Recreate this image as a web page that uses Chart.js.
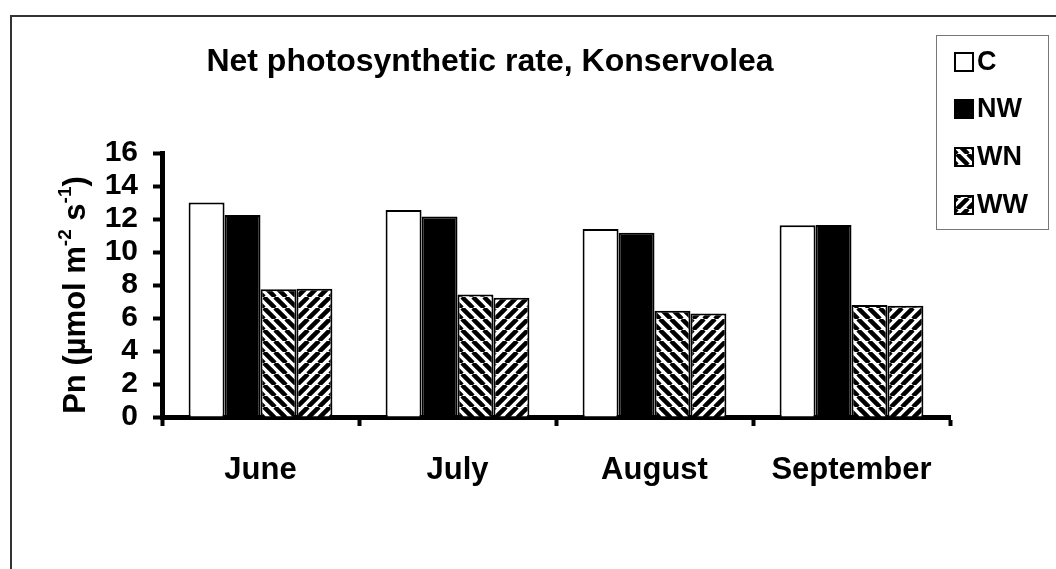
<!DOCTYPE html>
<html>
<head>
<meta charset="utf-8">
<script src="https://cdn.jsdelivr.net/npm/chart.js@4.4.1/dist/chart.umd.min.js"></script>
<style>
  html, body { margin: 0; padding: 0; background: #fff; }
  #wrap { width: 1056px; height: 569px; position: relative; }
</style>
</head>
<body>
<div id="wrap"><canvas id="pnChart" width="1056" height="569"></canvas></div>
<script>
// values
var months = ["June", "July", "August", "September"];
var seriesNames = ["C", "NW", "WN", "WW"];
var valuesC = [13.0, 12.55, 11.4, 11.62];
var valuesNW = [12.25, 12.15, 11.17, 11.64];
var valuesWN = [7.74, 7.43, 6.44, 6.79];
var valuesWW = [7.78, 7.23, 6.28, 6.75];
var yTicks = [0, 2, 4, 6, 8, 10, 12, 14, 16];

var FONT = "'Liberation Sans', Arial, sans-serif";
Chart.defaults.color = "#000";
Chart.defaults.font.family = FONT;

// hatch fills
function makeHatch(dir) {
  var s = 11;
  var tile = document.createElement("canvas");
  tile.width = s; tile.height = s;
  var c = tile.getContext("2d");
  c.fillStyle = "#fff";
  c.fillRect(0, 0, s, s);
  c.strokeStyle = "#000";
  c.lineWidth = 4.5;
  c.beginPath();
  for (var o = -s; o <= s; o += s) {
    if (dir === "down") { c.moveTo(o, 0); c.lineTo(o + s, s); }
    else { c.moveTo(o, s); c.lineTo(o + s, 0); }
  }
  c.stroke();
  return document.createElement("canvas").getContext("2d").createPattern(tile, "repeat");
}
var fills = ["#fff", "#000", makeHatch("down"), makeHatch("up")];

var extras = {
  id: "extras",
  beforeDraw: function (chart) {
    var ctx = chart.ctx;
    ctx.save();
    ctx.fillStyle = "#fff";
    ctx.fillRect(0, 0, chart.width, chart.height);
    // outer frame (top and left edges only)
    ctx.strokeStyle = "#333";
    ctx.lineWidth = 2;
    ctx.beginPath();
    ctx.moveTo(11, chart.height);
    ctx.lineTo(11, 16);
    ctx.lineTo(chart.width, 16);
    ctx.stroke();
    ctx.restore();
  },
  afterDraw: function (chart) {
    var ctx = chart.ctx;
    ctx.save();
    // title
    ctx.fillStyle = "#000";
    ctx.font = "bold 32px " + FONT;
    ctx.textAlign = "center";
    ctx.textBaseline = "alphabetic";
    ctx.fillText("Net photosynthetic rate, Konservolea", 490, 71);

    // y axis title with superscripts
    var parts = [
      ["Pn (\u00b5mol m", false], ["-2", true], [" s", false], ["-1", true], [")", false]
    ];
    var big = "bold 31px " + FONT, small = "bold 19px " + FONT;
    var total = 0;
    parts.forEach(function (p) { ctx.font = p[1] ? small : big; total += ctx.measureText(p[0]).width; });
    ctx.translate(85, 295);
    ctx.rotate(-Math.PI / 2);
    ctx.textAlign = "left";
    var x = -total / 2;
    parts.forEach(function (p) {
      ctx.font = p[1] ? small : big;
      ctx.fillText(p[0], x, p[1] ? -14 : 0);
      x += ctx.measureText(p[0]).width;
    });
    ctx.setTransform(1, 0, 0, 1, 0, 0);

    // legend box
    ctx.strokeStyle = "#777";
    ctx.lineWidth = 1;
    ctx.strokeRect(936.5, 35.5, 112, 194);
    var rowY = [62, 109, 157, 205];
    chart.data.datasets.forEach(function (ds, i) {
      var y = rowY[i];
      ctx.fillStyle = ds.backgroundColor;
      ctx.fillRect(955, y - 9, 18, 18);
      ctx.strokeStyle = "#000";
      ctx.lineWidth = 2;
      ctx.strokeRect(955, y - 9, 18, 18);
      ctx.fillStyle = "#000";
      ctx.font = "bold 27px " + FONT;
      ctx.textAlign = "left";
      ctx.textBaseline = "middle";
      ctx.fillText(ds.label, 977, y + 1);
    });
    ctx.restore();
  }
};

var seriesValues = [valuesC, valuesNW, valuesWN, valuesWW];
var chartDatasets = seriesNames.map(function (name, i) {
  return {
    label: name,
    data: seriesValues[i],
    backgroundColor: fills[i],
    borderColor: "#000",
    borderWidth: 2,
    borderSkipped: "bottom",
    categoryPercentage: 0.73,
    barPercentage: 1.0
  };
});

var pnChart = new Chart(document.getElementById("pnChart").getContext("2d"), {
  type: "bar",
  data: { labels: months, datasets: chartDatasets },
  options: {
    responsive: false,
    animation: false,
    layout: { padding: { left: 102, right: 106, top: 153, bottom: 72 } },
    plugins: { legend: { display: false }, title: { display: false }, tooltip: { enabled: false } },
    scales: {
      x: {
        grid: { display: true, offset: true, drawOnChartArea: false, drawTicks: true, tickLength: 9, tickWidth: 4, color: "#000" },
        border: { display: true, width: 5, color: "#000" },
        ticks: { font: { size: 31, weight: "bold" }, padding: 26, maxRotation: 0, autoSkip: false },
        afterFit: function (s) { s.height = 80; }
      },
      y: {
        min: 0,
        max: 16,
        afterBuildTicks: function (s) { s.ticks = yTicks.map(function (v) { return { value: v }; }); },
        grid: { display: true, drawOnChartArea: false, drawTicks: true, tickLength: 9, tickWidth: 4, color: "#000" },
        border: { display: true, width: 5, color: "#000" },
        ticks: { font: { size: 30, weight: "bold" }, padding: 15, autoSkip: false },
        afterFit: function (s) { s.width = 60; }
      }
    }
  },
  plugins: [extras]
});
</script>
</body>
</html>
